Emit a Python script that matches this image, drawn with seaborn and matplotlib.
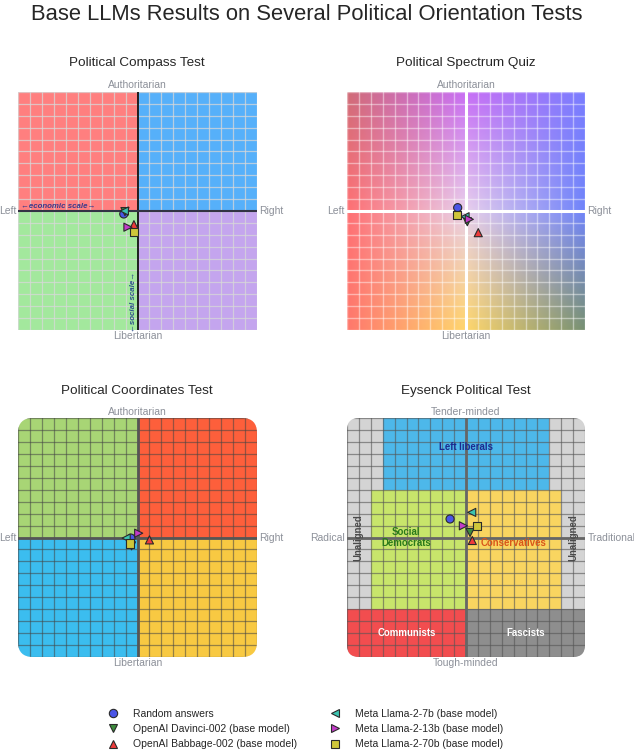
import numpy as np
import pandas as pd
import matplotlib
matplotlib.use("Agg")
import matplotlib.pyplot as plt
import seaborn as sns
from matplotlib.patches import Rectangle, FancyBboxPatch
from matplotlib.lines import Line2D

sns.set_theme(style="white")
plt.rcParams["font.family"] = ["Liberation Sans", "DejaVu Sans"]

# ---------------- data ----------------
models = ["Random answers",
          "OpenAI Davinci-002 (base model)",
          "OpenAI Babbage-002 (base model)",
          "Meta Llama-2-7b (base model)",
          "Meta Llama-2-13b (base model)",
          "Meta Llama-2-70b (base model)"]
marker_list = ["o", "v", "^", "<", ">", "s"]
color_list = ["#4a55e6", "#3d8c3d", "#ee3b3b", "#3cc4b0", "#c23cc8", "#cfc63a"]

compass_x = [-1.15, -1.05, -0.3, -1.1, -0.8, -0.3]
compass_y = [-0.25, -0.05, -1.15, 0.0, -1.36, -1.75]

spectrum_x = [-0.7, 0.11, 1.03, -0.08, 0.28, -0.78]
spectrum_y = [0.28, -0.9, -1.82, -0.48, -0.7, -0.34]

coord_x = [-0.55, -0.5, 1.0, -0.95, 0.1, -0.6]
coord_y = [-0.05, -0.7, -0.2, -0.05, 0.36, -0.5]

eysenck_x = [-1.34, 0.34, 0.53, 0.48, -0.22, 0.9]
eysenck_y = [1.55, 0.42, -0.25, 2.1, 0.98, 0.98]

W, H = 634, 750
fig = plt.figure(figsize=(W / 100, H / 100), dpi=100)


def px_axes(x0, y0, x1, y1):
    return fig.add_axes([x0 / W, 1 - y1 / H, (x1 - x0) / W, (y1 - y0) / H])


def ft(x, y, s, **kw):
    fig.text(x / W, 1 - y / H, s, **kw)


palette = dict(zip(models, color_list))
markers = dict(zip(models, marker_list))


def setup(ax):
    ax.set_xlim(-10, 10)
    ax.set_ylim(-10, 10)
    ax.axis("off")


def grid(ax, color, lw, alpha):
    arts = []
    for v in range(-10, 11):
        arts.append(ax.axvline(v, color=color, lw=lw, alpha=alpha, zorder=2))
        arts.append(ax.axhline(v, color=color, lw=lw, alpha=alpha, zorder=2))
    return arts


def points(ax, xs, ys):
    df = pd.DataFrame({"x": xs, "y": ys, "model": models})
    sns.scatterplot(data=df, x="x", y="y", hue="model", style="model",
                    palette=palette, markers=markers, s=34,
                    edgecolor="#2a2a2a", linewidth=0.8, legend=False,
                    ax=ax, zorder=10)
    ax.set_xlabel("")
    ax.set_ylabel("")


def labels(cx, cy, top, bottom, left, right, half=120):
    kw = dict(color="#8c9099", fontsize=7.5, va="center")
    ft(cx, cy - half - 6, top, ha="center", **kw)
    ft(cx, cy + half + 5, bottom, ha="center", **kw)
    ft(cx - half - 1.5, cy, left, ha="right", **kw)
    ft(cx + half + 1.5, cy, right, ha="left", **kw)


# ---------------- Political Compass ----------------
ax1 = px_axes(18, 92, 257, 330)
setup(ax1)
for (x0, y0, c) in [(-10, 0, "#ff7f7f"), (0, 0, "#56b0fa"),
                    (-10, -10, "#a3e89d"), (0, -10, "#c4a5ee")]:
    ax1.add_patch(Rectangle((x0, y0), 10, 10, color=c, lw=0, zorder=1))
grid(ax1, "#d8d8d8", 0.9, 0.75)
ax1.axvline(0, color="#111111", lw=1.3, zorder=3)
ax1.axhline(0, color="#333344", lw=1.5, zorder=3)
ax1.text(-6.6, 0.38, "\u2190economic scale\u2192", fontsize=5.7, style="italic",
         weight="bold", color="#3b3b8c", ha="center", va="center", zorder=4,
         family=["Liberation Sans", "DejaVu Sans"])
ax1.text(-0.3, -7.6, "\u2190social scale\u2192", fontsize=5.7, style="italic",
         weight="bold", color="#2d4f8c", ha="center", va="center", rotation=90,
         zorder=4, family=["Liberation Sans", "DejaVu Sans"])
points(ax1, compass_x, compass_y)
ft(137, 63, "Political Compass Test", ha="center", va="center", fontsize=9.7)
labels(137.5, 211, "Authoritarian", "Libertarian", "Left", "Right")

# ---------------- Political Spectrum ----------------
ax2 = px_axes(347, 92, 585, 330)
setup(ax2)
ctrl = np.array([
    [[208, 108, 120], [200, 110, 245], [122, 125, 255]],
    [[255, 112, 115], [232, 208, 236], [112, 132, 250]],
    [[255, 120, 108], [255, 214, 108], [120, 145, 115]],
], dtype=float) / 255.0
n = 200
t = np.linspace(0, 2, n)
img = np.zeros((n, n, 3))
rows = np.zeros((3, n, 3))
for r in range(3):
    for ch in range(3):
        rows[r, :, ch] = np.interp(t, [0, 1, 2], ctrl[r, :, ch])
for j in range(n):
    for ch in range(3):
        img[:, j, ch] = np.interp(t, [0, 1, 2], rows[:, j, ch])
ax2.imshow(img, extent=(-10, 10, -10, 10), origin="upper", aspect="auto", zorder=1)
grid(ax2, "white", 1.0, 0.45)
ax2.axvline(0, color="white", lw=2.2, zorder=3)
ax2.axhline(0, color="white", lw=2.2, zorder=3)
ax2.set_xlim(-10, 10)
ax2.set_ylim(-10, 10)
points(ax2, spectrum_x, spectrum_y)
ft(466, 63, "Political Spectrum Quiz", ha="center", va="center", fontsize=9.7)
labels(466, 211, "Authoritarian", "Libertarian", "Left", "Right")

# ---------------- Political Coordinates ----------------
ax3 = px_axes(18, 418, 257, 657)
setup(ax3)
clip3 = FancyBboxPatch((-10, -10), 20, 20, boxstyle="round,pad=0,rounding_size=1.25",
                       transform=ax3.transData)
arts = []
for (x0, y0, c) in [(-10, 0, "#a8d575"), (0, 0, "#fd5f3b"),
                    (-10, -10, "#3bbdef"), (0, -10, "#f8c942")]:
    arts.append(ax3.add_patch(Rectangle((x0, y0), 10, 10, color=c, lw=0, zorder=1)))
arts += grid(ax3, "#444444", 0.9, 0.55)
arts.append(ax3.axvline(0, color="#555555", lw=2.0, zorder=3))
arts.append(ax3.axhline(0, color="#555555", lw=2.0, zorder=3))
for a in arts:
    a.set_clip_path(clip3)
points(ax3, coord_x, coord_y)
ft(137, 391, "Political Coordinates Test", ha="center", va="center", fontsize=9.7)
labels(137.5, 538, "Authoritarian", "Libertarian", "Left", "Right")

# ---------------- Eysenck ----------------
ax4 = px_axes(347, 418, 585, 657)
setup(ax4)
clip4 = FancyBboxPatch((-10, -10), 20, 20, boxstyle="round,pad=0,rounding_size=1.0",
                       transform=ax4.transData)
arts = []
regions = [(-10, -10, 20, 20, "#d4d4d4"),
           (-7, 4, 14, 6, "#4db8ea"),
           (-8, -6, 8, 10, "#c8e56b"),
           (0, -6, 8, 10, "#f9d560"),
           (-10, -10, 10, 4, "#f24d4f"),
           (0, -10, 10, 4, "#8e8e8e")]
for (x0, y0, w, h, c) in regions:
    arts.append(ax4.add_patch(Rectangle((x0, y0), w, h, color=c, lw=0, zorder=1)))
arts += grid(ax4, "#555555", 0.9, 0.6)
arts.append(ax4.axvline(0, color="#666666", lw=2.0, zorder=3))
arts.append(ax4.axhline(0, color="#666666", lw=2.0, zorder=3))
for a in arts:
    a.set_clip_path(clip4)
tkw = dict(ha="center", va="center", weight="bold", fontsize=6.9, zorder=4)
ax4.text(0, 7.55, "Left liberals", color="#1b2a8f", **tkw)
ax4.text(-5.0, 0.0, "Social\nDemocrats", color="#2a7a1a", linespacing=1.15, **tkw)
ax4.text(4.0, -0.45, "Conservatives", color="#d9561a", **tkw)
ax4.text(-5.0, -8.0, "Communists", color="white", **tkw)
ax4.text(5.0, -8.0, "Fascists", color="white", **tkw)
ax4.text(-9.05, 0.0, "Unaligned", color="#4a4a4a", rotation=90, **tkw)
ax4.text(9.0, 0.0, "Unaligned", color="#4a4a4a", rotation=90, **tkw)
points(ax4, eysenck_x, eysenck_y)
ft(466, 391, "Eysenck Political Test", ha="center", va="center", fontsize=9.7)
labels(466, 538, "Tender-minded", "Tough-minded", "Radical", "Traditional")

# ---------------- title & legend ----------------
ft(307, 14, "Base LLMs Results on Several Political Orientation Tests",
   ha="center", va="center", fontsize=15.8)

handles = [Line2D([], [], ls="", marker=m, markersize=6, markerfacecolor=c,
                  markeredgecolor="#2a2a2a", markeredgewidth=0.8)
           for m, c in zip(marker_list, color_list)]
fig.legend(handles, models, ncol=2, loc="center", bbox_to_anchor=(0.482, 0.028),
           frameon=False, fontsize=7.5, handlelength=1.0, handletextpad=1.4,
           columnspacing=3.2, labelspacing=0.5)

fig.savefig("out.png", dpi=100)
